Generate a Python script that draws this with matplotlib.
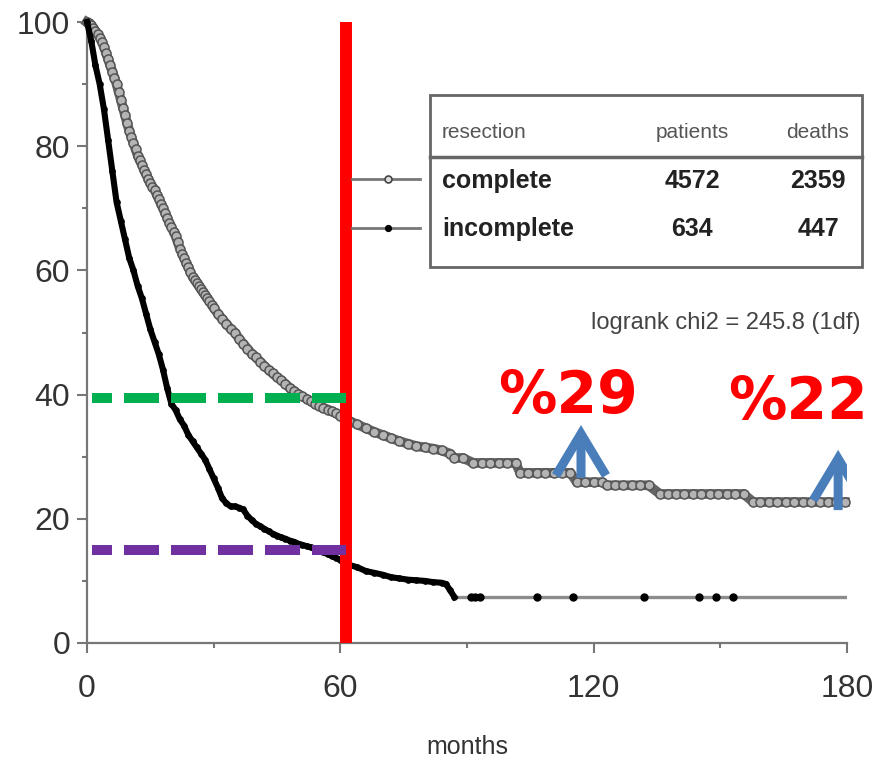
import matplotlib
matplotlib.use("Agg")
import matplotlib.pyplot as plt
from matplotlib.patches import Rectangle, FancyArrowPatch
from matplotlib.lines import Line2D
from matplotlib.ticker import MultipleLocator

plt.rcParams['font.family'] = ['Liberation Sans Narrow', 'Liberation Sans', 'DejaVu Sans']

# survival curves (months, % surviving)
complete_t = [0, 0.5, 1, 1.5, 2, 2.5, 3, 3.5, 4, 4.5, 5, 5.5, 6, 6.5, 7, 7.5, 8, 8.5, 9, 9.5,
              10, 10.5, 11, 11.5, 12, 12.5, 13, 13.5, 14, 14.5, 15, 15.5, 16, 16.5, 17, 17.5, 18, 18.5, 19, 19.5,
              20, 20.5, 21, 21.5, 22, 22.5, 23, 23.5, 24, 24.5, 25, 25.5, 26, 26.5, 27, 27.5, 28, 28.5, 29, 29.5,
              30, 31, 32, 33, 34, 35, 36, 37, 38, 39,
              40, 41, 42, 43, 44, 45, 46, 47, 48, 49, 50, 51, 52, 53, 54, 55, 56, 57, 58, 59,
              60, 62, 64, 66, 68, 70, 72, 74, 76, 78, 80, 82, 84, 86,
              87, 89, 91.5, 93.5, 95.5, 97.5, 99.5, 101.5, 102.6, 104.5, 106.5, 108.5, 110.5, 112.5, 114.5,
              116, 118, 120, 122, 123.1, 125, 127, 129, 131, 133, 135.7, 137.5, 139.5, 141.5, 143.5,
              145.5, 147.5, 149.5, 151.5, 153.5, 155.5, 157.8, 159.5, 161.5, 163.5, 165.5, 167.5,
              169.5, 171.5, 173.5, 175.5, 177.5, 179.5]
complete_s = [100, 99.8, 99.5, 99, 98.5, 98, 97.5, 96.8, 96, 95, 94, 93, 92, 91, 90, 88.7, 87.5, 86.2, 85, 83.7,
              82.5, 81.5, 80.5, 79.5, 78.5, 77.7, 77, 76.2, 75.5, 74.7, 74, 73.5, 73, 72.2, 71.5, 70.7, 70, 69.2, 68.5, 67.7,
              67, 66.2, 65.5, 64.5, 63.5, 62.7, 62, 61.2, 60.5, 59.7, 59, 58.5, 58, 57.5, 57, 56.5, 56, 55.5, 55, 54.5,
              54, 53, 52.2, 51.4, 50.6, 50, 49, 48.2, 47.4, 46.6,
              46, 45.3, 44.6, 44, 43.4, 42.8, 42.3, 41.7, 41.1, 40.6, 40.1, 39.7, 39.3, 38.9, 38.5, 38.2, 37.9, 37.6, 37.3, 37,
              36.6, 35.8, 35.2, 34.6, 34.0, 33.5, 33.0, 32.5, 32.1, 31.7, 31.5, 31.3, 31.0, 30.5,
              29.8, 29.8, 29.0, 29.0, 29.0, 29.0, 29.0, 29.0, 27.4, 27.4, 27.4, 27.4, 27.4, 27.4, 27.4,
              25.9, 25.9, 25.9, 25.9, 25.4, 25.4, 25.4, 25.4, 25.4, 25.4, 24.0, 24.0, 24.0, 24.0, 24.0,
              24.0, 24.0, 24.0, 24.0, 24.0, 24.0, 22.7, 22.7, 22.7, 22.7, 22.7, 22.7,
              22.7, 22.7, 22.7, 22.7, 22.7, 22.7]

incomplete_t = [0, 1, 2, 3, 4, 5, 6, 7, 8, 9, 10, 11, 12, 13, 14, 15, 16, 17, 18, 19,
                20, 21, 22, 23, 24, 25, 26, 27, 28, 29, 30, 31, 32, 33, 34, 35, 36, 37, 38, 39,
                40, 41, 42, 43, 44, 45, 46, 47, 48, 49, 50, 51, 52, 53, 54, 55, 56, 57, 58, 59,
                60, 61, 62, 64, 66, 68, 70, 72, 74, 76, 78, 80, 82, 84, 85, 86, 87]
incomplete_s = [100, 97, 93, 90, 86, 81, 76, 71, 68, 65, 62, 60, 57.5, 55.5, 53, 50.5, 48.5, 46.5, 44, 41,
                38.5, 37.5, 36, 35, 33.5, 32.5, 31.5, 30.5, 29.5, 28, 26.5, 25, 23.3, 22.5, 22, 22, 21.8, 21.5, 20.5, 19.8,
                19.2, 18.8, 18.4, 18, 17.6, 17.3, 17, 16.8, 16.5, 16.3, 16, 15.8, 15.6, 15.4, 15.1, 14.9, 14.6, 14.3, 14, 13.7,
                13.4, 13, 12.6, 12.2, 11.6, 11.3, 11.0, 10.6, 10.4, 10.2, 10.1, 10.0, 9.8, 9.7, 9.5, 8.5, 7.4]
tail_t = [87, 179.5]
tail_s = [7.4, 7.4]
censored_t = [91, 92, 93, 106.6, 115, 132, 145, 149, 153]
censored_s = [7.4] * len(censored_t)

cutoff_month = 61.3
green_level = 39.4
purple_level = 14.9

table_header = ["resection", "patients", "deaths"]
table_groups = ["complete", "incomplete"]
table_patients = ["4572", "634"]
table_deaths = ["2359", "447"]
logrank_text = "logrank chi2 = 245.8 (1df)"

pct_labels = ["%29", "%22"]
arrow_months = [117, 177.9]
arrow_base = [26.6, 21.4]
arrow_tip = [35.1, 31.1]

W, H = 896, 763


def px(x, y):
    return x / W, 1 - y / H


fig = plt.figure(figsize=(W / 100, H / 100), dpi=100)
ax = fig.add_axes([87 / W, 1 - 643 / H, (847 - 87) / W, (643 - 22) / H])

grey = "#777777"
for s in ["top", "right"]:
    ax.spines[s].set_visible(False)
for s in ["left", "bottom"]:
    ax.spines[s].set_color(grey)
    ax.spines[s].set_linewidth(1.6)

ax.set_xlim(0, 180)
ax.set_ylim(0, 100)
ax.xaxis.set_major_locator(MultipleLocator(60))
ax.xaxis.set_minor_locator(MultipleLocator(30))
ax.yaxis.set_major_locator(MultipleLocator(20))
ax.yaxis.set_minor_locator(MultipleLocator(10))
ax.tick_params(which="major", length=7, width=1.5, color=grey, labelsize=23, labelcolor="#333333")
ax.tick_params(which="minor", length=3.5, width=1.5, color=grey)
ax.tick_params(axis="x", pad=15)
ax.tick_params(axis="y", pad=5)

# complete resection: chain of open circles
ax.plot(complete_t, complete_s, color="#666666", lw=7, clip_on=False, zorder=3, solid_joinstyle="miter")
ax.plot(complete_t, complete_s, "o", ms=6.5, mfc="#b4b4b4", mec="#555555", mew=1.1, clip_on=False, zorder=4)

# incomplete resection
ax.plot(tail_t, tail_s, color="#8c8c8c", lw=2.4, zorder=3)
ax.plot(incomplete_t, incomplete_s, color="black", lw=4.4, clip_on=False, zorder=4)
ax.plot(incomplete_t, incomplete_s, "o", ms=3.8, color="black", clip_on=False, zorder=4)
ax.plot(censored_t, censored_s, "o", ms=5, color="black", zorder=4)

# annotations
ax.vlines(cutoff_month, 0, 100, color="red", lw=8.6, zorder=5, clip_on=False)
ax.plot([1.2, cutoff_month], [green_level, green_level], color="#00b050", lw=7.2,
        linestyle=(1.5, (3.5, 1.2)), solid_capstyle="butt", zorder=6)
ax.plot([1.2, cutoff_month], [purple_level, purple_level], color="#7030a0", lw=7.2,
        linestyle=(1.5, (3.5, 1.2)), solid_capstyle="butt", zorder=6)

for m, b, t in zip(arrow_months, arrow_base, arrow_tip):
    arr = FancyArrowPatch((m, b), (m, t), arrowstyle="->,head_length=0.5,head_width=0.3",
                          mutation_scale=60, lw=6.5, color="#4a7ebb", zorder=7,
                          shrinkA=0, shrinkB=0, capstyle="butt", joinstyle="miter")
    ax.add_patch(arr)

fig.text(*px(568, 396), pct_labels[0], color="red", fontsize=42, fontweight="bold",
         family="DejaVu Sans", ha="center", va="center")
fig.text(*px(798, 403), pct_labels[1], color="red", fontsize=42, fontweight="bold",
         family="DejaVu Sans", ha="center", va="center")

# legend table
box = Rectangle(px(430, 267), (862 - 430) / W, (267 - 95) / H, transform=fig.transFigure,
                fill=False, edgecolor="#666666", lw=2)
fig.add_artist(box)
fig.add_artist(Line2D([430 / W, 862 / W], [1 - 157 / H] * 2, transform=fig.transFigure,
                      color="#666666", lw=2.5))

col_x = [442, 692, 818]
fig.text(*px(col_x[0], 132), table_header[0], ha="left", va="center", fontsize=15, color="#555555")
fig.text(*px(col_x[1], 132), table_header[1], ha="center", va="center", fontsize=15, color="#555555")
fig.text(*px(col_x[2], 132), table_header[2], ha="center", va="center", fontsize=15, color="#555555")
row_y = [181, 229]
for i in range(2):
    fig.text(*px(col_x[0], row_y[i]), table_groups[i], ha="left", va="center", fontsize=18,
             fontweight="bold", color="#222222")
    fig.text(*px(col_x[1], row_y[i]), table_patients[i], ha="center", va="center", fontsize=18,
             fontweight="bold", color="#222222")
    fig.text(*px(col_x[2], row_y[i]), table_deaths[i], ha="center", va="center", fontsize=18,
             fontweight="bold", color="#222222")

# legend samples to the left of the table
for i, (mfc, ms) in enumerate([("#dddddd", 5), ("black", 4)]):
    y = 1 - [179, 228][i] / H
    fig.add_artist(Line2D([352 / W, 420 / W], [y, y], transform=fig.transFigure, color="#777777", lw=2))
    fig.add_artist(Line2D([388 / W], [y], transform=fig.transFigure, marker="o", ms=ms,
                          mfc=mfc, mec="#444444" if i == 0 else "black", mew=1.2, lw=0))

fig.text(*px(860, 323), logrank_text, ha="right", va="center", fontsize=17, color="#444444")
fig.text(*px(467, 747), "months", ha="center", va="center", fontsize=18, color="#333333")

fig.savefig("out.png", dpi=100)
